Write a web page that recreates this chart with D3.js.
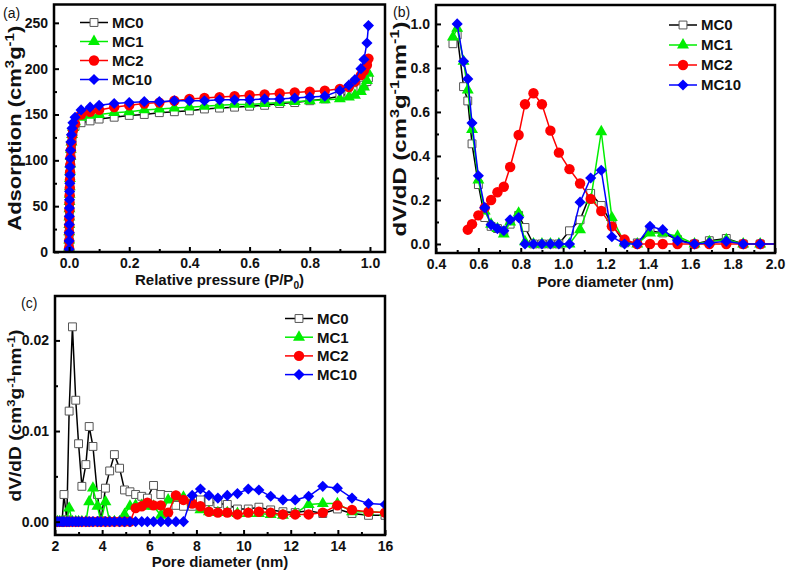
<!DOCTYPE html>
<html>
<head>
<meta charset="utf-8">
<script src="https://cdn.jsdelivr.net/npm/d3@7"></script>
<style>
  body { margin: 0; background: #fff; }
  text { font-family: "Liberation Sans", Arial, sans-serif; }
</style>
</head>
<body>
<svg id="fig" width="787" height="572"></svg>
<script>
const seriesNames = ["MC0", "MC1", "MC2", "MC10"]
const seriesColors = ["#000000", "#00ee00", "#ff0000", "#0000ff"]

// (a) adsorption isotherms: low pressure stack + plateau
const lowP = [0.0002, 0.0004, 0.0006, 0.0008, 0.001, 0.0013, 0.0016, 0.002, 0.0025, 0.003, 0.0035, 0.004, 0.005, 0.006, 0.008, 0.01, 0.013, 0.02]
const highP = [0.04, 0.07, 0.1, 0.15, 0.2, 0.25, 0.3, 0.35, 0.4, 0.45, 0.5, 0.55, 0.6, 0.65, 0.7, 0.75, 0.8, 0.85, 0.9, 0.93, 0.95, 0.97, 0.98, 0.99, 0.995]
const isoMC0 = [3, 11, 20, 27, 36, 45, 52, 61, 69, 77, 85, 92, 101, 108, 117, 124, 131, 137,
  141, 143, 145, 147, 149, 150, 152, 153, 154, 156, 157, 158, 159, 160, 162, 163, 165, 167, 170, 173, 176, 179, 182, 186, 190]
const isoMC1 = [5, 13, 22, 30, 38, 47, 55, 63, 71, 80, 88, 96, 104, 112, 120, 128, 136, 142,
  147, 149, 150, 152, 153, 155, 156, 157, 158, 159, 160, 161, 161, 162, 163, 164, 165, 166, 167, 169, 171, 175, 180, 187, 195]
const isoMC2 = [4, 12, 21, 29, 37, 46, 54, 62, 70, 79, 87, 95, 103, 111, 119, 127, 133, 140,
  150, 153, 155, 158, 160, 162, 163, 165, 167, 168, 169, 170, 171, 172, 173, 174, 175, 176, 178, 180, 186, 193, 198, 204, 211]
const isoMC10 = [3, 12, 21, 30, 39, 48, 57, 66, 75, 84, 93, 102, 111, 120, 128, 135, 141, 147,
  155, 158, 160, 162, 163, 164, 164, 165, 165, 165, 166, 166, 166, 167, 167, 168, 169, 170, 176, 182, 188, 200, 210, 228, 247]

// (b) micropore size distribution
const poreB = [0.48, 0.50, 0.53, 0.55, 0.57, 0.60, 0.63, 0.66, 0.69, 0.72, 0.75, 0.79, 0.82, 0.86, 0.90, 0.94, 0.98, 1.03, 1.08, 1.13, 1.18, 1.23, 1.29, 1.35, 1.41, 1.47, 1.54, 1.62, 1.69, 1.77, 1.85, 1.93, 2.05]
const psdMC0 = [0.91, 0.95, 0.715, 0.65, 0.455, 0.27, 0.12, 0.08, 0.07, 0.06, 0.09, 0.13, 0.075, 0, 0, 0, 0, 0.06, 0.11, 0.23, 0.175, 0.09, 0.005, 0.005, 0.06, 0.05, 0.02, 0, 0.015, 0.025, 0, 0, 0]
const psdMC1 = [0.94, 0.98, 0.83, 0.70, 0.52, 0.29, 0.15, 0.09, 0.07, 0.045, 0.10, 0.14, 0.01, 0, 0, 0, 0, 0, 0.065, 0.20, 0.51, 0.12, 0.005, 0, 0.05, 0.05, 0.035, 0, 0.01, 0.02, 0, 0, 0]
const psdMC2 = [null, null, null, 0.065, 0.09, 0.13, 0.165, 0.20, 0.235, 0.26, 0.35, 0.495, 0.635, 0.685, 0.635, 0.515, 0.415, 0.34, 0.275, 0.205, 0.15, 0.08, 0.02, 0, 0, 0, 0, 0, 0, 0, 0, 0, 0]
const psdMC10 = [null, 1.0, 0.83, 0.75, 0.55, 0.31, 0.165, 0.087, 0.07, 0.06, 0.11, 0.12, 0, 0, 0, 0, 0, 0, 0.19, 0.30, 0.335, 0.033, 0, 0, 0.08, 0.065, 0.015, 0, 0.005, 0.012, 0, 0, 0]

// (c) mesopore size distribution
const poreC = [2.0, 2.1, 2.2, 2.3, 2.38, 2.5, 2.6, 2.74, 2.88, 3.0, 3.14, 3.31, 3.45, 3.61, 3.8, 3.95, 4.14, 4.32, 4.52, 4.74, 4.95, 5.18, 5.42, 5.68, 5.92, 6.18, 6.49, 6.8, 7.13, 7.45, 7.82, 8.17, 8.53, 8.91, 9.31, 9.74, 10.2, 10.65, 11.15, 11.67, 12.19, 12.76, 13.36, 13.98, 14.6, 15.3, 16.0]
const mesoMC0 = [0, 0, 0, 0, 0.0030, 0.0002, 0.0122, 0.0215, 0.0134, 0.0086, 0.0039, 0.0063, 0.0105, 0.0083, 0.0030, 0.0001, 0.0037, 0.0056, 0.0074, 0.0059, 0.0035, 0.0033, 0.0030, 0.0028, 0.0026, 0.0040, 0.0030, 0.0029, 0.0018, 0.0017, 0.0017, 0.0024, 0.0022, 0.0020, 0.0019, 0.0014, 0.0014, 0.0016, 0.0013, 0.0011, 0.0010, 0.0012, 0.0009, 0.0014, 0.0009, 0.0007, 0.0007]
const mesoMC1 = [0, 0, 0, 0, 0, 0, 0.0015, 0, 0, 0, 0, 0, 0.0022, 0.0037, 0.0017, 0, 0.0022, 0, 0, 0, 0.0008, 0.0017, 0.0018, 0.0018, 0.0017, 0.0017, 0.0007, 0.0024, 0.0027, 0.0027, 0.0022, 0.0013, 0.0011, 0.0010, 0.0010, 0.0009, 0.0009, 0.0009, 0.0008, 0.0007, 0.0009, 0.0019, 0.0020, 0.0020, 0.0011, 0.0011, 0.0010]
const mesoMC2 = [0, 0, 0, 0, 0, 0, 0, 0, 0, 0, 0, 0, 0, 0, 0, 0, 0, 0, 0, 0, 0, 0, 0.0015, 0.0017, 0.0021, 0.0018, 0.0018, 0.0010, 0.0029, 0.0024, 0.0020, 0.0017, 0.0011, 0.0010, 0.0010, 0.0008, 0.0010, 0.0011, 0.0010, 0.0008, 0.0008, 0.0008, 0.0010, 0.0018, 0.0013, 0.0011, 0.0010]
const mesoMC10 = [0, 0, 0, 0, 0, 0, 0, 0, 0, 0, 0, 0, 0, 0, 0, 0, 0, 0, 0, 0, 0, 0, 0, 0, 0, 0, 0, 0, 0, 0, 0.0029, 0.0036, 0.0029, 0.0026, 0.0029, 0.0031, 0.0036, 0.0035, 0.0028, 0.0024, 0.0024, 0.0028, 0.0039, 0.0037, 0.0026, 0.0020, 0.0019]

// tick values
const ticksA = { xMajor: [0, 0.2, 0.4, 0.6, 0.8, 1.0], xMinor: [0.1, 0.3, 0.5, 0.7, 0.9], yMajor: [0, 50, 100, 150, 200, 250], yMinor: [25, 75, 125, 175, 225] }
const ticksB = { xMajor: [0.4, 0.6, 0.8, 1.0, 1.2, 1.4, 1.6, 1.8, 2.0], xMinor: [0.5, 0.7, 0.9, 1.1, 1.3, 1.5, 1.7, 1.9], yMajor: [0, 0.2, 0.4, 0.6, 0.8, 1.0], yMinor: [0.1, 0.3, 0.5, 0.7, 0.9] }
const ticksC = { xMajor: [2, 4, 6, 8, 10, 12, 14, 16], xMinor: [3, 5, 7, 9, 11, 13, 15], yMajor: [0, 0.01, 0.02], yMinor: [0.005, 0.015] }

let svg = d3.select("#fig")

function markerPath(i) {
    if (i == 0) return d3.symbol().type(d3.symbolSquare).size(62)()
    if (i == 1) return d3.symbol().type(d3.symbolTriangle).size(62)()
    if (i == 2) return d3.symbol().type(d3.symbolCircle).size(85)()
    return d3.symbol().type(d3.symbolSquare).size(62)()
}

function addMarker(sel, i, cx, cy) {
    let m = sel.append("path")
        .attr("d", markerPath(i))
        .attr("transform", "translate(" + cx + "," + cy + ")" + (i == 3 ? " rotate(45)" : ""))
    if (i == 0) {
        m.attr("fill", "#fff").attr("stroke", "#555").attr("stroke-width", 1)
    } else {
        m.attr("fill", seriesColors[i]).attr("stroke", "none")
    }
    return m
}

// text with super/subscripts, parts = [[text, "n"|"sup"|"sub"], ...]
function richText(sel, parts, size) {
    let shift = 0
    parts.forEach(pt => {
        let target = pt[1] == "sup" ? -0.4 * size : (pt[1] == "sub" ? 0.25 * size : 0)
        let t = sel.append("tspan").text(pt[0]).attr("dy", target - shift)
        if (pt[1] != "n") t.attr("font-size", size * 0.68)
        shift = target
    })
}

function drawPanel(p) {
    let g = svg.append("g")
    let x = d3.scaleLinear().domain(p.xDomain).range([p.left, p.right])
    let y = d3.scaleLinear().domain(p.yDomain).range([p.bottom, p.top])

    g.append("clipPath").attr("id", "clip-" + p.id)
        .append("rect")
        .attr("x", p.left).attr("y", p.top)
        .attr("width", p.right - p.left).attr("height", p.bottom - p.top)

    let plot = g.append("g").attr("clip-path", "url(#clip-" + p.id + ")")
    let line = d3.line()
        .defined(d => d[1] != null)
        .x(d => x(d[0]))
        .y(d => y(d[1]))

    p.values.forEach((vals, i) => {
        let pts = p.xs.map((xv, k) => [xv, vals[k]])
        plot.append("path")
            .attr("d", line(pts))
            .attr("fill", "none")
            .attr("stroke", seriesColors[i])
            .attr("stroke-width", 1.5)
        let mg = plot.append("g")
        pts.filter(d => d[1] != null).forEach(d => addMarker(mg, i, x(d[0]), y(d[1])))
    })

    // ticks point inward
    let bottomMinor = d3.axisBottom(x).tickValues(p.ticks.xMinor).tickSize(-3).tickFormat("")
    let bottomMajor = d3.axisBottom(x).tickValues(p.ticks.xMajor).tickSizeInner(-5).tickSizeOuter(0).tickPadding(6).tickFormat(p.xFormat)
    let leftMinor = d3.axisLeft(y).tickValues(p.ticks.yMinor).tickSize(-3).tickFormat("")
    let leftMajor = d3.axisLeft(y).tickValues(p.ticks.yMajor).tickSizeInner(-5).tickSizeOuter(0).tickPadding(6).tickFormat(p.yFormat)

    ;[[bottomMinor, "b"], [bottomMajor, "b"], [leftMinor, "l"], [leftMajor, "l"]].forEach(a => {
        let ag = g.append("g")
            .attr("transform", a[1] == "b" ? "translate(0," + p.bottom + ")" : "translate(" + p.left + ",0)")
            .call(a[0])
        ag.select(".domain").remove()
        ag.selectAll("line").attr("stroke-width", 2)
        ag.attr("font-family", null).attr("font-size", 14).attr("font-weight", "bold")
        ag.selectAll("text").attr("fill", "#111")
    })

    g.append("rect")
        .attr("x", p.left).attr("y", p.top)
        .attr("width", p.right - p.left).attr("height", p.bottom - p.top)
        .attr("fill", "none").attr("stroke", "#000").attr("stroke-width", 2.5)

    // axis titles
    let xt = g.append("text")
        .attr("x", (p.left + p.right) / 2).attr("y", p.xTitleY)
        .attr("text-anchor", "middle").attr("font-size", 15).attr("font-weight", "bold").attr("fill", "#111")
    richText(xt, p.xTitle, 15)

    // y title is stretched along its length to the span seen in the figure
    let yt = g.append("text")
        .attr("text-anchor", "middle").attr("font-size", p.yTitleSize).attr("font-weight", "bold").attr("fill", "#111")
    richText(yt, p.yTitle, p.yTitleSize)
    let stretch = p.yTitleLen / yt.node().getComputedTextLength()
    yt.attr("transform", "translate(" + p.yTitleX + "," + (p.top + p.bottom) / 2 + ") rotate(-90) scale(" + stretch + ",1)")

    g.append("text")
        .attr("x", p.tagX).attr("y", p.tagY)
        .attr("font-size", 14).attr("fill", "#111")
        .text(p.tag)

    // legend
    seriesNames.forEach((name, i) => {
        let ly = p.legendY + i * p.legendStep
        g.append("line")
            .attr("x1", p.legendX).attr("x2", p.legendX + 28)
            .attr("y1", ly).attr("y2", ly)
            .attr("stroke", seriesColors[i]).attr("stroke-width", 1.5)
        addMarker(g, i, p.legendX + 14, ly)
        g.append("text")
            .attr("x", p.legendX + 32).attr("y", ly).attr("dy", "0.36em")
            .attr("font-size", 15).attr("font-weight", "bold").attr("fill", "#111")
            .text(name)
    })
}

drawPanel({
    id: "a", tag: "(a)", tagX: 3, tagY: 18,
    left: 54, right: 385, top: 4.5, bottom: 252,
    xDomain: [-0.05, 1.05], yDomain: [0, 270],
    xs: lowP.concat(highP), values: [isoMC0, isoMC1, isoMC2, isoMC10],
    ticks: ticksA, xFormat: d3.format(".1f"), yFormat: d3.format("d"),
    xTitle: [["Relative pressure (P/P", "n"], ["0", "sub"], [")", "n"]], xTitleY: 285,
    yTitle: [["Adsorption (cm", "n"], ["3", "sup"], ["g", "n"], ["-1", "sup"], [")", "n"]],
    yTitleX: 21, yTitleSize: 18, yTitleLen: 205,
    legendX: 80, legendY: 22.5, legendStep: 19
})

drawPanel({
    id: "b", tag: "(b)", tagX: 393, tagY: 17,
    left: 436, right: 775, top: 5, bottom: 253,
    xDomain: [0.4, 2.0], yDomain: [-0.041, 1.086],
    xs: poreB, values: [psdMC0, psdMC1, psdMC2, psdMC10],
    ticks: ticksB, xFormat: d3.format(".1f"), yFormat: d3.format(".1f"),
    xTitle: [["Pore diameter (nm)", "n"]], xTitleY: 287,
    yTitle: [["dV/dD (cm", "n"], ["3", "sup"], ["g", "n"], ["-1", "sup"], ["nm", "n"], ["-1", "sup"], [")", "n"]],
    yTitleX: 406, yTitleSize: 18, yTitleLen: 215,
    legendX: 669, legendY: 25, legendStep: 20
})

drawPanel({
    id: "c", tag: "(c)", tagX: 21, tagY: 308,
    left: 55, right: 385, top: 296, bottom: 535,
    xDomain: [2, 16], yDomain: [-0.00147, 0.0249],
    xs: poreC, values: [mesoMC0, mesoMC1, mesoMC2, mesoMC10],
    ticks: ticksC, xFormat: d3.format("d"), yFormat: d3.format(".2f"),
    xTitle: [["Pore diameter (nm)", "n"]], xTitleY: 567,
    yTitle: [["dV/dD (cm", "n"], ["3", "sup"], ["g", "n"], ["-1", "sup"], ["nm", "n"], ["-1", "sup"], [")", "n"]],
    yTitleX: 21, yTitleSize: 16, yTitleLen: 172,
    legendX: 285, legendY: 318.5, legendStep: 18.7
})
</script>
</body>
</html>
